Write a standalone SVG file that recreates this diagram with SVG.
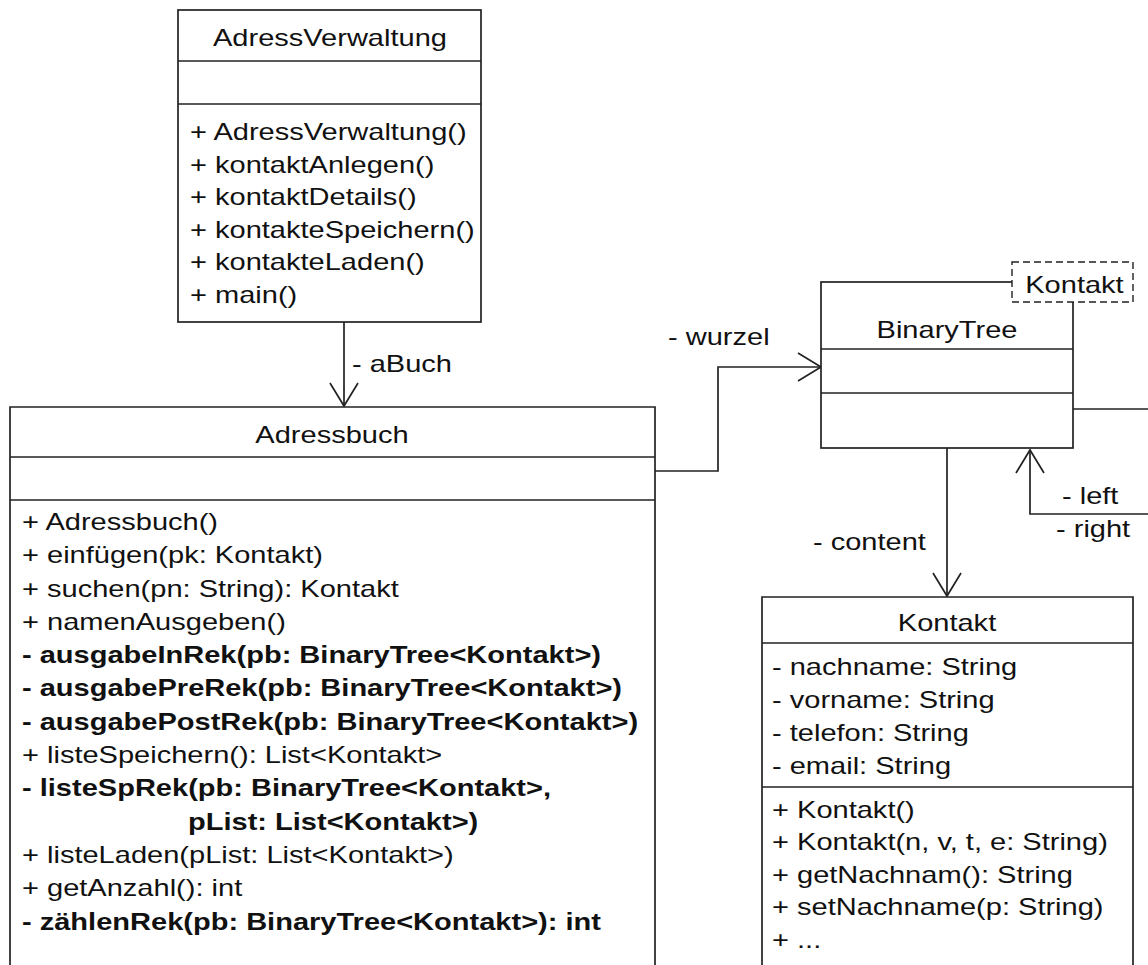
<svg xmlns="http://www.w3.org/2000/svg" width="1148" height="965" viewBox="0 0 1148 965">
<style>
.box{fill:#fff;stroke:#222;stroke-width:1.7}
.ln{stroke:#222;stroke-width:1.7;fill:none}
.t{font-family:"Liberation Sans",Arial,sans-serif;font-size:24px;fill:#111}
.b{font-weight:bold}
.m{text-anchor:middle}
.dash{fill:#fff;stroke:#222;stroke-width:1.4;stroke-dasharray:7 4}
</style>
<defs>
<marker id="open" viewBox="0 0 26 30" refX="24" refY="15" markerWidth="26" markerHeight="30" markerUnits="userSpaceOnUse" orient="auto">
<path d="M1,1 L24,15 L1,29" fill="none" stroke="#222" stroke-width="1.7"/>
</marker>
</defs>
<rect width="1148" height="965" fill="#fff"/>
<g id="connectors">
<path class="ln" d="M344,322 V406" marker-end="url(#open)"/>
<path class="ln" d="M655,471 H718 V367 H821" marker-end="url(#open)"/>
<path class="ln" d="M947,448 V596" marker-end="url(#open)"/>
<path class="ln" d="M1073,409 H1148"/>
<path class="ln" d="M1148,514 H1030 V450" marker-end="url(#open)"/>
<g transform="scale(1.21,1)">
<text class="t" x="290.91" y="372">- aBuch</text>
<text class="t" x="552.07" y="345">- wurzel</text>
<text class="t" x="671.9" y="550">- content</text>
<text class="t" x="877.69" y="504">- left</text>
<text class="t" x="872.73" y="537">- right</text>
</g>
</g>
<g id="AdressVerwaltung">
<rect class="box" x="178" y="10" width="303" height="312"/>
<line class="ln" x1="178" y1="61" x2="481" y2="61"/>
<line class="ln" x1="178" y1="104" x2="481" y2="104"/>
<g transform="scale(1.21,1)">
<text class="t m" x="272.73" y="46">AdressVerwaltung</text>
<text class="t" x="157.02" y="140">+ AdressVerwaltung()</text>
<text class="t" x="157.02" y="172.6">+ kontaktAnlegen()</text>
<text class="t" x="157.02" y="205.2">+ kontaktDetails()</text>
<text class="t" x="157.02" y="237.8">+ kontakteSpeichern()</text>
<text class="t" x="157.02" y="270.4">+ kontakteLaden()</text>
<text class="t" x="157.02" y="303">+ main()</text>
</g>
</g>
<g id="Adressbuch">
<path class="box" d="M10,975 V407 H655 V975"/>
<line class="ln" x1="10" y1="457" x2="655" y2="457"/>
<line class="ln" x1="10" y1="500" x2="655" y2="500"/>
<g transform="scale(1.21,1)">
<text class="t m" x="274.38" y="443">Adressbuch</text>
<text class="t" x="18.18" y="530">+ Adressbuch()</text>
<text class="t" x="18.18" y="563.3">+ einfügen(pk: Kontakt)</text>
<text class="t" x="18.18" y="596.6">+ suchen(pn: String): Kontakt</text>
<text class="t" x="18.18" y="629.9">+ namenAusgeben()</text>
<text class="t b" x="18.18" y="663.2">- ausgabeInRek(pb: BinaryTree&lt;Kontakt&gt;)</text>
<text class="t b" x="18.18" y="696.5">- ausgabePreRek(pb: BinaryTree&lt;Kontakt&gt;)</text>
<text class="t b" x="18.18" y="729.8">- ausgabePostRek(pb: BinaryTree&lt;Kontakt&gt;)</text>
<text class="t" x="18.18" y="763.1">+ listeSpeichern(): List&lt;Kontakt&gt;</text>
<text class="t b" x="18.18" y="796.4">- listeSpRek(pb: BinaryTree&lt;Kontakt&gt;,</text>
<text class="t b" x="155.37" y="829.7">pList: List&lt;Kontakt&gt;)</text>
<text class="t" x="18.18" y="863">+ listeLaden(pList: List&lt;Kontakt&gt;)</text>
<text class="t" x="18.18" y="896.3">+ getAnzahl(): int</text>
<text class="t b" x="18.18" y="929.6">- zählenRek(pb: BinaryTree&lt;Kontakt&gt;): int</text>
</g>
</g>
<g id="BinaryTree">
<rect class="box" x="821" y="282" width="252" height="166"/>
<line class="ln" x1="821" y1="349" x2="1073" y2="349"/>
<line class="ln" x1="821" y1="393" x2="1073" y2="393"/>
<rect class="dash" x="1012" y="262" width="121" height="40"/>
<g transform="scale(1.21,1)">
<text class="t m" x="782.64" y="338">BinaryTree</text>
<text class="t m" x="888" y="293">Kontakt</text>
</g>
</g>
<g id="Kontakt">
<path class="box" d="M762,975 V597 H1133 V975"/>
<line class="ln" x1="762" y1="643" x2="1133" y2="643"/>
<line class="ln" x1="762" y1="787" x2="1133" y2="787"/>
<g transform="scale(1.21,1)">
<text class="t m" x="782.64" y="631">Kontakt</text>
<text class="t" x="638.02" y="675">- nachname: String</text>
<text class="t" x="638.02" y="708">- vorname: String</text>
<text class="t" x="638.02" y="741">- telefon: String</text>
<text class="t" x="638.02" y="774">- email: String</text>
<text class="t" x="638.02" y="818">+ Kontakt()</text>
<text class="t" x="638.02" y="850.5">+ Kontakt(n, v, t, e: String)</text>
<text class="t" x="638.02" y="883">+ getNachnam(): String</text>
<text class="t" x="638.02" y="915.5">+ setNachname(p: String)</text>
<text class="t" x="638.02" y="948">+ ...</text>
</g>
</g>
</svg>
